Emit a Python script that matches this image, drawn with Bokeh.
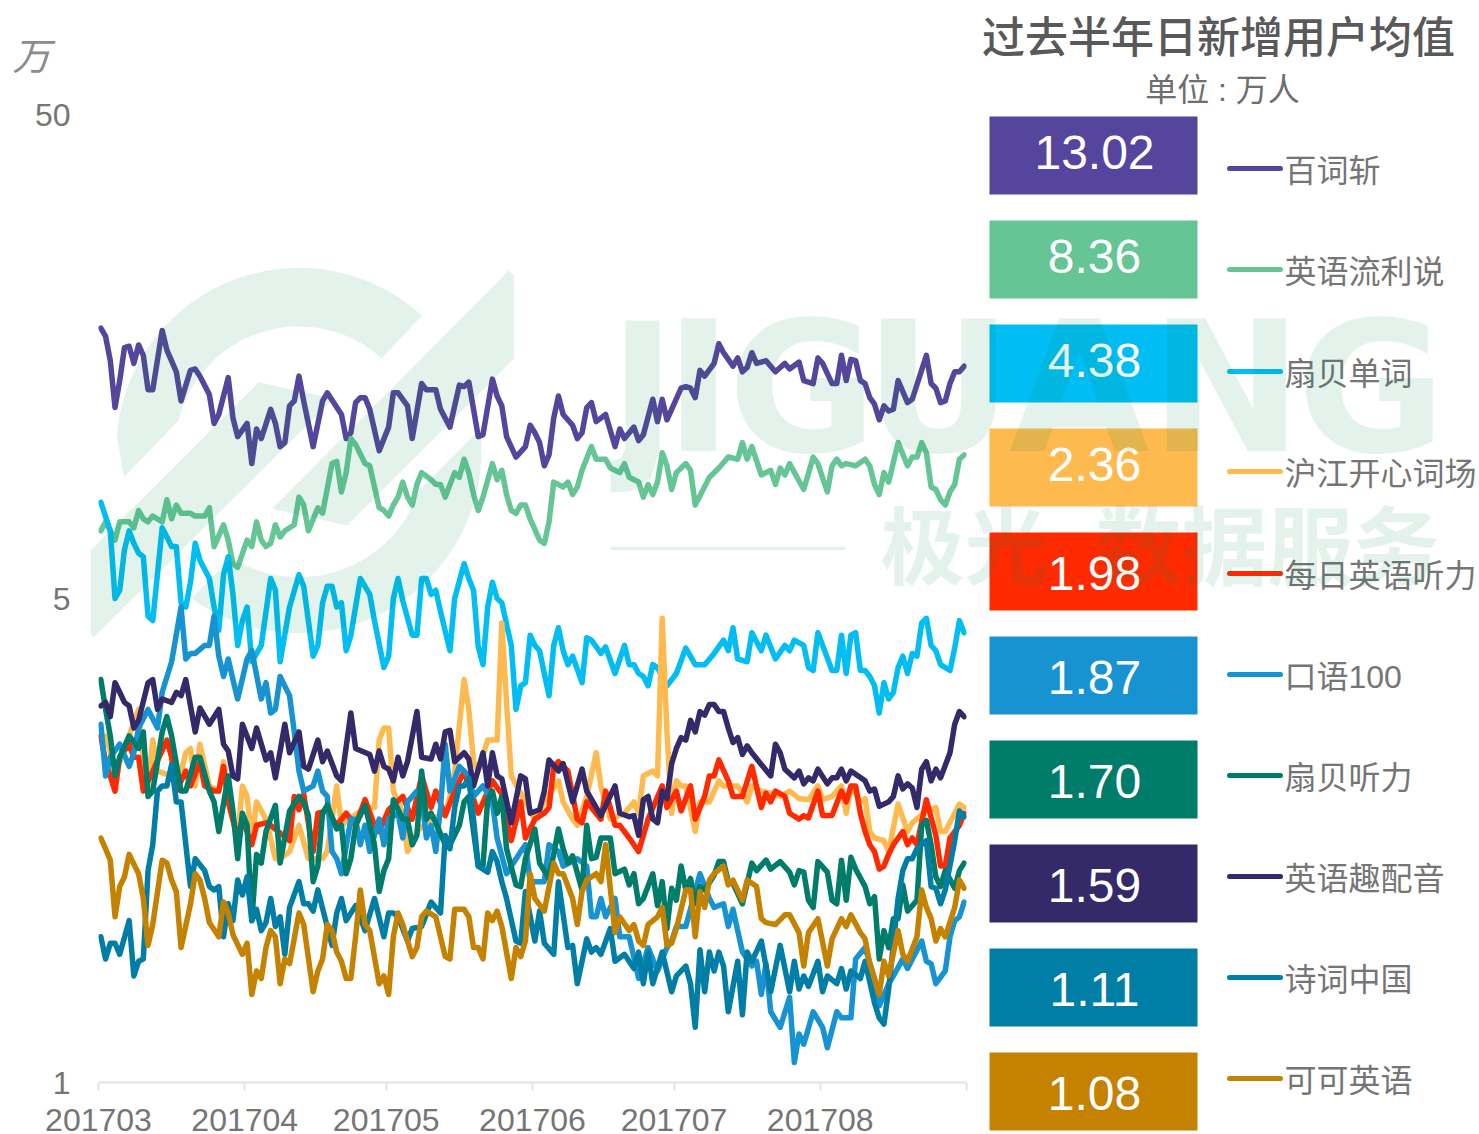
import math
from bokeh.plotting import figure
from bokeh.models import Range1d, FixedTicker, GridBox
from bokeh.core.properties import value
from bokeh.embed import file_html
from bokeh.resources import INLINE

title_text = "过去半年日新增用户均值"
unit_text = "单位 : 万人"
y_unit = "万"
month_labels = ["201703", "201704", "201705", "201706", "201707", "201708", ""]
month_starts = [0, 31, 61, 92, 122, 153, 184]
y_ticks = [0.5, 5, 50]
y_tick_labels = ["1", "5", "50"]

names = ["百词斩", "英语流利说", "扇贝单词", "沪江开心词场", "每日英语听力", "口语100", "扇贝听力", "英语趣配音", "诗词中国", "可可英语"]
means = ["13.02", "8.36", "4.38", "2.36", "1.98", "1.87", "1.70", "1.59", "1.11", "1.08"]
colors = ["#55459D", "#66C595", "#00BDF4", "#FEBA4F", "#FF2A00", "#1693D0", "#007C6B", "#352A69", "#007EA5", "#C48200"]

d_bcz = [0,1,2,3,4,5,6,7,8,9,10,11,13,14,16,17,19,20,21,23,24,25,27,28,29,31,32,33,34,36,37,38,39,40,41,42,43,45,47,48,51,52,53,54,55,56,57,59,61,62,63,65,66,68,69,71,72,74,75,76,77,78,79,80,81,83,84,85,86,88,90,91,92,93,94,95,96,97,98,100,101,102,103,104,105,107,109,110,111,113,114,115,117,118,119,120,121,123,124,125,126,127,128,130,131,132,134,135,136,137,138,139,141,143,145,146,148,149,151,152,153,155,156,157,158,159,160,161,162,163,164,165,166,167,168,169,171,172,175,176,177,178,179,180,181,182,183]
v_bcz = [18.1,17.4,15.5,12.4,14.1,16.5,16.6,15.3,16.7,15.9,13.5,13.5,17.9,16.3,14.7,12.8,14.8,14.9,14.4,13.2,11.5,12.0,14.3,11.8,10.8,11.5,9.5,11.2,10.7,12.3,11.5,10.3,10.5,12.5,12.8,14.4,12.8,10.3,12.8,13.3,12.0,10.7,11.0,12.7,13.0,13.0,12.3,10.1,11.3,13.3,13.3,12.5,10.7,13.9,13.5,13.5,12.3,11.3,12.5,13.8,13.7,14.0,12.3,10.8,10.9,14.2,13.1,12.5,10.8,9.8,10.3,11.4,11.0,10.5,9.4,9.9,11.8,13.1,12.0,11.4,10.7,11.0,12.4,12.7,11.6,12.0,10.3,11.2,10.7,11.3,10.6,10.9,12.9,11.6,12.9,11.7,12.3,13.6,13.7,13.6,13.0,14.8,14.4,15.3,16.8,16.1,15.1,15.7,14.7,15.0,16.1,15.3,15.5,14.7,15.3,14.9,15.4,14.1,13.9,15.7,15.3,13.9,13.9,15.9,14.1,15.6,15.5,14.1,13.9,13.0,12.6,11.7,12.5,12.2,12.3,14.1,12.7,12.9,15.9,13.9,13.6,12.7,12.8,13.9,14.7,14.7,15.1]

d_lls = [0,1,2,3,4,6,7,8,9,10,11,13,14,15,16,17,19,20,22,23,24,26,27,28,29,31,32,33,34,35,36,37,38,39,41,42,43,44,46,47,49,50,51,52,53,54,56,57,58,59,60,61,62,63,64,65,66,67,68,70,71,72,73,75,76,77,78,79,80,81,83,84,85,86,87,88,89,90,91,93,94,95,96,98,99,100,101,102,104,105,107,108,110,111,112,114,115,116,117,118,119,120,121,122,124,125,126,129,131,133,135,136,137,138,140,142,143,144,145,146,149,151,152,154,155,156,157,158,160,162,163,164,165,166,167,169,171,172,173,174,175,176,177,178,179,180,181,182,183]
v_lls = [6.9,7.2,6.9,6.6,7.2,7.2,7.0,7.6,7.3,7.2,7.4,7.2,8.0,7.3,7.8,7.5,7.5,7.4,7.4,7.7,6.4,7.1,6.6,5.9,5.8,6.6,6.4,7.2,6.6,6.4,6.5,7.1,6.7,6.9,7.1,8.1,7.8,6.9,7.7,7.5,9.5,9.6,8.3,9.1,10.7,10.4,9.5,9.4,8.5,7.7,7.6,7.4,7.8,8.1,8.7,8.1,7.8,8.6,9.1,8.8,8.6,8.6,8.1,9.1,8.9,9.7,9.1,8.2,7.6,8.1,9.5,8.8,9.2,8.2,7.6,7.5,7.8,7.8,7.3,6.6,6.5,7.2,8.7,8.5,8.7,8.2,8.5,9.2,10.3,9.7,9.7,9.3,9.1,9.5,8.9,8.7,8.1,8.6,8.2,8.7,10.0,9.4,8.4,9.1,9.5,9.2,7.8,8.9,9.3,9.8,9.7,10.5,9.7,10.3,9.0,9.2,8.6,9.3,9.0,9.5,8.4,9.8,9.5,8.3,9.4,9.7,9.4,9.5,9.4,9.7,9.4,8.6,8.2,9.1,8.7,10.5,9.4,9.8,9.8,10.5,10.0,8.5,8.4,8.0,7.8,8.3,8.6,9.7,9.9]

d_sbdc = [0,2,3,4,5,6,7,8,9,10,11,13,14,15,16,17,18,19,20,21,23,24,25,26,27,28,29,30,31,32,34,36,37,38,40,42,43,45,46,47,48,49,50,51,52,53,55,57,58,60,61,62,63,64,66,67,68,69,70,71,72,74,75,77,78,79,80,81,82,83,84,85,87,88,89,90,91,92,93,94,95,96,97,98,99,100,102,103,104,106,107,109,111,112,113,114,115,116,117,118,120,122,124,126,128,130,132,133,134,135,137,138,140,141,143,145,146,147,149,150,151,152,153,155,156,157,158,159,160,161,162,163,164,165,166,167,168,169,170,171,172,173,174,175,176,177,178,180,181,182,183]
v_sbdc = [7.9,6.9,5.0,5.2,6.3,6.9,6.5,6.2,6.1,4.6,4.5,7.0,6.7,6.4,6.4,4.9,4.8,5.4,6.5,6.0,5.5,4.8,4.3,5.6,6.1,5.1,4.0,4.5,4.8,3.7,4.0,5.5,5.2,3.7,4.8,5.6,5.3,3.8,4.0,4.9,5.3,5.3,4.8,4.9,3.9,4.2,5.5,5.1,4.5,3.6,3.8,5.0,5.5,4.95,4.2,4.2,5.5,5.5,5.1,5.2,4.7,3.9,5.0,5.9,5.5,5.2,3.98,3.65,4.8,5.4,5.0,4.9,4.0,2.95,3.3,3.35,4.2,4.0,3.9,3.5,3.15,4.0,4.35,3.9,3.65,3.8,3.35,4.15,4.1,3.85,3.97,3.5,4.0,3.65,3.65,3.5,3.45,3.3,3.65,3.6,3.3,3.5,3.95,3.65,3.65,3.85,4.1,3.9,4.35,3.75,3.7,4.25,3.9,4.2,3.75,4.0,3.9,4.1,4.0,3.6,3.55,4.25,4.0,3.55,3.55,4.2,3.5,4.2,4.25,3.55,3.55,3.45,3.3,2.9,3.35,3.1,3.2,3.6,3.8,3.5,3.85,3.8,4.45,4.55,4.0,3.9,3.65,3.55,3.95,4.5,4.25]

d_hj = [0,1,3,4,8,9,10,11,12,15,16,18,19,20,21,23,25,26,27,29,30,31,32,33,35,37,38,40,42,44,47,48,50,51,56,58,59,60,61,62,64,65,67,70,73,74,75,77,78,79,80,82,84,85,86,87,90,92,94,97,98,100,101,103,105,106,108,111,113,114,115,117,118,119,120,121,122,123,124,126,127,129,131,132,135,137,138,140,142,144,146,148,150,152,153,155,157,158,159,161,162,163,164,166,167,169,171,172,175,177,178,179,181,182,183]
v_hj = [2.6,2.6,2.25,2.3,2.95,2.3,2.05,2.55,2.2,2.15,2.0,2.4,2.45,2.05,2.5,2.05,2.0,2.3,1.9,1.6,2.05,1.95,1.58,1.9,1.75,1.45,1.45,1.5,1.7,1.45,1.45,1.5,2.05,1.7,1.85,1.85,2.55,2.7,2.7,2.0,1.8,1.5,1.65,1.75,1.8,1.95,2.2,3.4,2.95,2.3,2.2,2.55,2.55,4.45,3.05,2.15,1.9,1.75,1.9,2.1,1.9,1.75,1.7,1.95,2.4,2.05,1.75,1.8,1.9,1.8,2.15,2.2,2.15,4.55,2.65,1.8,2.1,2.05,2.05,1.65,1.9,1.9,2.1,2.05,2.05,1.9,2.05,2.0,1.98,1.95,2.0,1.93,1.92,2.05,1.92,1.95,2.05,1.8,2.05,1.9,1.93,1.65,1.6,1.58,1.5,1.88,1.65,1.72,1.82,1.85,1.65,1.65,1.8,1.88,1.85]

d_mr = [0,1,3,4,6,7,8,9,11,14,15,16,18,19,21,22,24,25,26,27,29,30,32,33,35,36,40,41,42,43,45,46,48,50,52,54,56,58,59,61,64,66,68,70,71,73,75,77,80,83,85,87,89,90,92,94,95,96,97,99,101,102,103,106,107,109,110,112,114,116,119,120,122,123,125,126,128,129,130,131,133,134,136,138,140,141,142,143,145,146,148,149,150,152,153,155,157,158,159,160,161,162,163,164,165,166,167,168,170,171,172,173,175,177,178,179,180,182,183]
v_mr = [2.6,2.3,2.0,2.35,2.5,2.35,2.35,2.0,2.2,2.55,2.35,2.0,2.2,2.05,2.3,2.05,2.0,2.0,2.25,1.9,1.6,1.75,1.55,1.7,1.72,1.7,1.58,1.95,1.83,1.97,1.5,1.8,1.82,1.7,1.8,1.7,1.92,1.7,1.65,1.83,1.95,1.75,2.15,1.85,2.0,1.78,2.0,2.2,1.8,2.1,1.97,1.58,1.9,1.6,1.75,1.8,1.85,2.25,2.3,2.2,1.75,1.72,1.9,1.75,2.0,1.7,1.7,1.6,1.5,1.75,2.05,1.85,2.0,1.82,2.05,1.75,1.95,2.15,2.15,2.32,2.1,1.95,1.95,2.25,1.85,1.98,1.9,2.0,1.95,1.8,1.75,1.78,1.76,2.0,1.78,1.78,2.0,1.9,2.05,2.05,1.8,1.65,1.55,1.5,1.38,1.4,1.48,1.55,1.65,1.55,1.6,1.55,1.92,1.62,1.4,1.4,1.6,1.7,1.8]

d_ky = [0,1,2,4,6,7,8,10,12,13,15,17,18,19,20,22,23,24,25,26,27,28,29,31,32,34,35,36,37,38,40,41,42,43,45,46,47,48,49,50,51,53,54,55,56,57,59,60,61,63,64,65,67,68,69,70,71,72,73,74,76,78,79,81,83,84,86,89,90,91,94,95,97,98,101,103,104,105,106,107,109,110,112,114,116,118,120,121,122,124,127,129,130,132,133,134,136,138,139,140,141,142,144,146,147,148,149,151,153,154,156,157,159,160,162,164,165,167,168,170,171,174,175,176,177,179,180,181,182,183]
v_ky = [2.75,2.15,2.35,2.5,2.25,2.4,2.7,2.95,2.7,3.2,3.7,4.8,3.75,3.85,3.85,4.0,4.0,4.6,3.8,3.45,3.75,3.4,3.1,3.75,3.9,3.1,3.35,2.9,2.95,3.45,3.15,2.65,2.2,2.0,2.05,2.2,2.0,1.95,1.5,1.45,1.35,1.75,1.75,1.55,1.7,1.5,1.75,1.55,1.75,1.8,1.6,1.9,2.0,1.95,1.6,1.7,1.5,1.85,2.5,2.0,2.25,2.15,1.95,2.05,1.9,1.6,1.35,1.5,1.55,1.3,1.3,1.55,1.5,1.4,1.45,1.4,1.1,1.1,1.2,1.1,1.2,1.0,1.0,0.82,0.95,0.85,0.95,0.98,1.05,1.05,1.35,1.2,1.15,1.17,1.05,1.14,0.93,0.87,0.89,0.76,0.88,0.7,0.65,0.75,0.55,0.63,0.6,0.7,0.65,0.59,0.7,0.68,0.68,0.9,0.95,0.82,0.72,0.8,0.83,0.9,0.86,0.98,0.89,0.88,0.8,0.85,1.0,1.08,1.1,1.18]

d_sbtl = [0,1,2,3,4,6,8,9,10,11,13,14,15,17,18,20,21,23,24,25,27,28,29,30,31,32,33,34,35,37,38,40,42,43,44,45,46,47,48,50,51,52,53,54,56,58,59,60,61,62,64,65,66,67,68,69,70,71,73,74,76,77,78,80,81,82,83,84,85,86,88,89,90,92,93,95,97,98,99,100,102,103,104,105,106,108,109,111,112,113,114,115,117,118,119,120,121,122,123,124,125,126,127,128,130,131,132,133,134,136,138,139,141,142,144,146,147,148,149,150,151,152,154,155,156,157,158,159,160,162,163,164,165,166,167,168,169,170,171,173,174,175,176,177,178,179,181,182,183]
v_sbtl = [3.4,2.95,2.6,2.15,2.35,2.6,2.45,2.65,1.95,2.0,2.65,2.85,2.6,2.0,2.0,2.35,2.35,2.0,1.9,1.65,2.15,1.82,1.45,1.8,1.7,1.08,1.48,1.42,1.65,1.87,1.42,1.82,1.95,1.9,1.78,1.3,1.4,1.8,1.87,1.67,1.7,1.35,1.45,1.7,1.87,1.55,1.24,1.37,1.45,1.92,1.75,1.75,1.55,1.62,2.2,1.75,1.8,1.72,1.55,1.55,1.7,1.9,1.95,1.4,1.4,1.92,2.0,1.8,1.95,1.52,1.28,1.27,1.45,1.67,1.42,1.32,1.67,1.52,1.42,1.47,1.25,1.7,1.45,1.46,1.6,1.6,1.35,1.38,1.28,1.35,1.17,1.2,1.35,1.16,1.3,1.04,1.26,1.19,1.4,1.25,1.32,1.17,1.27,1.25,1.34,1.43,1.43,1.3,1.29,1.17,1.42,1.37,1.44,1.38,1.43,1.36,1.28,1.37,1.36,1.19,1.15,1.43,1.36,1.19,1.17,1.44,1.19,1.46,1.38,1.27,1.17,1.21,0.9,1.03,0.95,1.09,1.09,1.28,1.13,1.19,1.7,1.74,1.55,1.33,1.27,1.37,1.26,1.37,1.42]

d_qpy = [0,1,2,3,4,5,6,7,8,10,11,12,13,15,16,17,18,20,21,23,25,26,27,28,29,30,32,33,35,36,37,39,40,42,43,44,46,47,48,50,51,53,54,57,58,59,60,61,62,63,64,65,67,68,70,71,72,73,74,75,77,78,79,81,82,83,84,85,87,89,90,91,93,94,95,97,98,100,102,103,106,109,110,112,113,114,115,116,117,118,119,120,121,122,123,124,125,126,127,128,129,130,131,132,133,134,135,136,137,138,140,142,143,144,145,147,148,149,150,151,152,154,155,156,157,158,159,162,163,164,165,167,168,169,170,171,172,173,174,175,176,177,178,180,181,182,183]
v_qpy = [3.0,3.05,2.85,3.35,3.2,3.05,3.0,2.7,2.8,3.35,3.4,2.95,3.1,3.05,3.2,3.15,3.4,2.65,2.97,2.75,2.95,2.5,2.42,2.15,2.12,2.75,2.45,2.7,2.32,2.4,2.13,2.75,2.4,2.65,2.25,2.22,2.55,2.3,2.42,2.15,2.1,2.9,2.45,2.38,2.2,2.42,2.25,2.22,2.1,2.35,2.15,2.3,2.92,2.35,2.33,2.5,2.33,2.65,2.67,2.3,2.4,2.33,2.05,2.4,2.05,2.4,2.15,2.12,1.72,2.15,2.12,1.8,1.83,2.0,2.32,2.2,2.28,1.9,2.22,2.0,1.78,2.05,1.8,1.77,1.78,1.62,1.92,1.95,1.75,1.72,2.0,1.93,2.28,2.45,2.58,2.55,2.8,2.65,2.92,2.87,3.02,3.02,2.92,2.92,2.7,2.52,2.58,2.38,2.48,2.4,2.27,2.15,2.5,2.4,2.22,2.13,2.2,2.07,2.13,2.1,2.22,2.07,2.13,2.13,2.22,2.1,2.2,2.1,2.0,2.02,1.86,1.9,1.95,2.15,2.02,2.07,2.03,1.85,2.22,2.3,2.1,2.22,2.13,2.4,2.75,2.92,2.85]

d_sczg = [0,1,2,3,4,6,7,8,9,10,11,12,13,14,15,16,17,19,20,22,23,24,25,26,27,28,29,30,31,32,33,34,35,36,37,38,39,40,42,43,44,45,46,49,50,51,52,54,56,58,60,61,62,63,65,66,68,70,72,73,74,75,76,77,78,79,80,82,83,84,85,86,88,89,90,92,93,94,96,97,99,100,101,103,104,105,106,108,109,111,113,114,115,116,117,119,121,122,124,125,126,127,128,129,130,131,132,133,135,136,137,138,140,142,144,146,147,148,149,150,152,153,154,156,157,158,159,161,162,164,165,166,167,169,170,171,172,173,175,176,177,178,179,181,182,183]
v_sczg = [1.0,0.9,0.97,0.97,0.92,1.08,0.83,0.89,0.9,1.37,1.55,2.0,2.05,2.05,2.27,1.9,1.9,1.27,1.45,1.37,1.27,1.25,1.27,1.0,1.17,1.08,1.31,1.22,1.33,1.08,1.14,1.03,1.07,1.2,1.05,1.1,0.92,1.15,1.3,1.17,1.17,1.13,1.25,0.96,1.12,1.2,1.08,1.16,1.03,1.2,1.0,1.12,1.12,1.1,0.98,1.04,1.05,1.18,1.12,1.62,1.52,1.85,2.05,2.05,2.13,1.75,1.4,1.36,1.5,1.43,1.3,1.2,0.98,0.97,1.24,0.98,1.13,0.97,0.92,1.3,0.95,0.96,0.8,0.99,0.93,0.95,0.92,1.04,0.89,0.92,0.86,0.93,0.8,0.93,0.8,0.93,0.77,0.83,0.87,0.8,0.65,0.94,0.77,0.93,0.85,0.93,0.87,0.7,0.89,0.69,0.93,0.89,0.98,0.77,0.96,0.77,0.89,0.78,0.83,0.79,0.89,0.77,0.83,0.8,0.86,0.78,0.85,0.82,0.89,0.73,0.68,0.66,0.78,1.2,1.37,1.45,1.45,1.52,1.58,1.27,1.26,1.17,1.25,1.58,1.82,1.77]

d_kk = [0,1,2,3,4,5,6,8,9,10,11,13,14,15,16,17,19,20,21,22,23,25,26,27,28,30,31,32,33,34,35,36,37,38,39,40,42,43,45,46,47,48,49,50,51,52,53,54,55,56,57,59,60,61,62,63,64,66,67,68,69,71,73,74,75,77,78,79,80,81,82,83,84,85,87,88,89,90,91,92,94,96,97,98,100,101,102,103,105,106,107,109,110,112,113,114,115,116,118,119,120,121,122,124,125,126,127,128,129,130,132,133,134,136,137,139,140,141,143,145,146,148,149,150,152,154,155,157,158,159,161,162,163,165,166,167,169,170,171,173,174,175,176,177,178,179,181,182,183]
v_kk = [1.6,1.52,1.44,1.1,1.27,1.33,1.48,1.35,1.2,0.96,1.06,1.44,1.42,1.31,1.24,0.95,1.17,1.35,1.31,1.2,1.07,1.0,1.18,1.12,1.01,0.92,0.97,0.76,0.85,0.82,0.95,1.03,1.0,0.8,0.9,0.88,1.12,1.06,0.77,0.85,0.9,1.06,1.03,0.93,0.89,0.82,0.82,1.0,1.25,1.06,1.03,0.8,0.83,0.76,1.0,1.12,1.06,0.91,0.95,1.1,1.13,1.1,0.91,0.9,1.14,1.14,1.1,0.95,0.95,0.9,1.12,1.08,1.13,1.05,0.82,0.95,0.91,0.98,1.35,1.2,1.13,1.42,1.35,1.35,1.2,1.06,1.24,1.31,1.35,1.3,1.55,1.02,1.1,1.03,1.06,0.98,0.96,1.06,1.1,1.15,0.96,0.97,1.04,1.25,1.25,1.0,1.24,1.15,1.31,1.35,1.4,1.28,1.31,1.19,1.31,1.27,1.09,1.07,1.06,1.11,1.11,1.02,0.87,1.02,1.09,0.87,0.99,1.09,1.05,1.11,1.02,0.99,0.88,0.76,0.89,0.83,1.03,0.92,0.89,1.0,1.25,1.15,1.09,0.98,1.04,1.0,1.15,1.31,1.26]

series_days = [d_bcz, d_lls, d_sbdc, d_hj, d_mr, d_ky, d_sbtl, d_qpy, d_sczg, d_kk]
series_vals = [v_bcz, v_lls, v_sbdc, v_hj, v_mr, v_ky, v_sbtl, v_qpy, v_sczg, v_kk]

W, H = 1479, 1134
CJK = "Liberation Sans, 'Noto Sans CJK SC'"

p = figure(width=W, height=H, output_backend="svg", toolbar_location=None,
           x_range=Range1d(0, 184), y_range=Range1d(0.5, 50), y_axis_type="log",
           min_border_left=98, min_border_right=W - 966, min_border_top=114, min_border_bottom=H - 1082,
           background_fill_color="white", border_fill_color="white", frame_align=False)
p.outline_line_color = None
p.grid.visible = False

xa = p.xaxis[0]
xa.ticker = FixedTicker(ticks=month_starts)
xa.major_label_overrides = dict(zip(month_starts, month_labels))
xa.major_label_text_font = "Liberation Sans"
xa.major_label_text_font_size = "32px"
xa.major_label_text_color = "#757575"
xa.major_label_standoff = 18
xa.axis_line_color = "#E3E3E3"
xa.axis_line_width = 2
xa.major_tick_line_color = "#E3E3E3"
xa.major_tick_line_width = 2
xa.major_tick_in = 0
xa.major_tick_out = 8
xa.minor_tick_line_color = None

ya = p.yaxis[0]
ya.ticker = FixedTicker(ticks=y_ticks)
ya.major_label_overrides = dict(zip(y_ticks, y_tick_labels))
ya.major_label_text_font = "Liberation Sans"
ya.major_label_text_font_size = "32px"
ya.major_label_text_color = "#757575"
ya.major_label_standoff = 22
ya.axis_line_color = None
ya.major_tick_line_color = None
ya.minor_tick_line_color = None

for days, vals, col, name in zip(series_days, series_vals, colors, names):
    xs = [d + 0.5 for d in days]
    p.line(xs, vals, line_color=col, line_width=5.5, line_join="round", line_cap="round", name=name)

# Transparent overlay in page pixels: titles, value boxes, legend and watermark
o = figure(width=W, height=H, output_backend="svg", toolbar_location=None,
           x_range=Range1d(0, W), y_range=Range1d(H, 0),
           x_axis_location=None, y_axis_location=None,
           min_border=0, min_border_left=0, min_border_right=0, min_border_top=0, min_border_bottom=0,
           background_fill_color=None, border_fill_color=None, frame_align=False)
o.outline_line_color = None
o.grid.visible = False


def label(text, x, y, size, color, font=CJK, align="center", style="normal", alpha=1.0, baseline="middle"):
    o.text(x=[x], y=[y], text=[text], text_font=value(font), text_font_size=f"{size}px",
           text_color=color, text_align=align, text_baseline=baseline, text_font_style=style, text_alpha=alpha)


def box(l, r, t, b, color, alpha=1.0):
    o.quad(left=[l], right=[r], top=[t], bottom=[b], fill_color=color, fill_alpha=alpha, line_color=None)


label(y_unit, 31, 56, 38, "#8C8C8C", style="italic")
label(title_text, 1218, 33, 43, "#595959", font="'Noto Sans CJK SC Medium', 'Noto Sans CJK SC'")
label(unit_text, 1222, 89, 32, "#6E6E6E")

box_tops = [116, 220, 324, 428, 532, 636, 740, 844, 948, 1052]
num_offs = [36, 36, 36, 36, 41, 41, 41, 41, 41, 41]
line_ys = [168, 269, 371, 471, 573, 674, 775, 876, 977, 1078]
for name, mean, col, t, off, ly in zip(names, means, colors, box_tops, num_offs, line_ys):
    box(989, 1197, t, t + 78, col)
    label(mean, 1094, t + off, 48, "#FFFFFF", font="Liberation Sans")
    o.line([1229, 1280], [ly, ly], line_color=col, line_width=5, line_cap="round")
    label(name, 1284, ly + 2, 32, "#757575", align="left")

WM = "#00884E"
WA = 0.105


def poly(zpts):
    o.patch([85 + a / 3 for a, _ in zpts], [260 + b / 3 for _, b in zpts],
            fill_color=WM, fill_alpha=WA, line_color=None)


def arc(r, t0, t1, n=40):
    return [(640 + r * math.cos(math.radians(t0 + (t1 - t0) * i / n)),
             570 + r * math.sin(math.radians(t0 + (t1 - t0) * i / n))) for i in range(n + 1)]


poly(arc(548, -47.6, -175) + [(115, 650)] + arc(372, -166, -48))
poly(arc(548, -6.7, 126) + arc(380, 122, 18.4))
poly([(1270, 30), (1285, 45), (1285, 295), (785, 795), (560, 745)])
poly([(15, 870), (520, 365), (745, 415), (25, 1130), (15, 1120)])

j_x = [625, 659, 659, 650, 630, 610, 610, 620, 625]
j_y = [320, 320, 450, 478, 491, 492, 461, 458, 448]
o.patch(j_x, j_y, fill_color=WM, fill_alpha=WA, line_color=None)
for letter, cx in zip("IGUANG", [698, 802, 938, 1079, 1226, 1371]):
    label(letter, cx, 387, 182, WM, font="DejaVu Sans", style="bold", alpha=WA)
box(610, 845, 546.5, 549.5, WM, alpha=WA)
label("极光", 880, 541, 84, WM, font="Noto Sans CJK SC", style="bold", alpha=WA, align="left")
label("数据服务", 1095, 541, 86, WM, font="Noto Sans CJK SC", style="bold", alpha=WA, align="left")

layout = GridBox(children=[(p, 0, 0), (o, 0, 0)])
open("out.html", "w").write(file_html(layout, INLINE))
